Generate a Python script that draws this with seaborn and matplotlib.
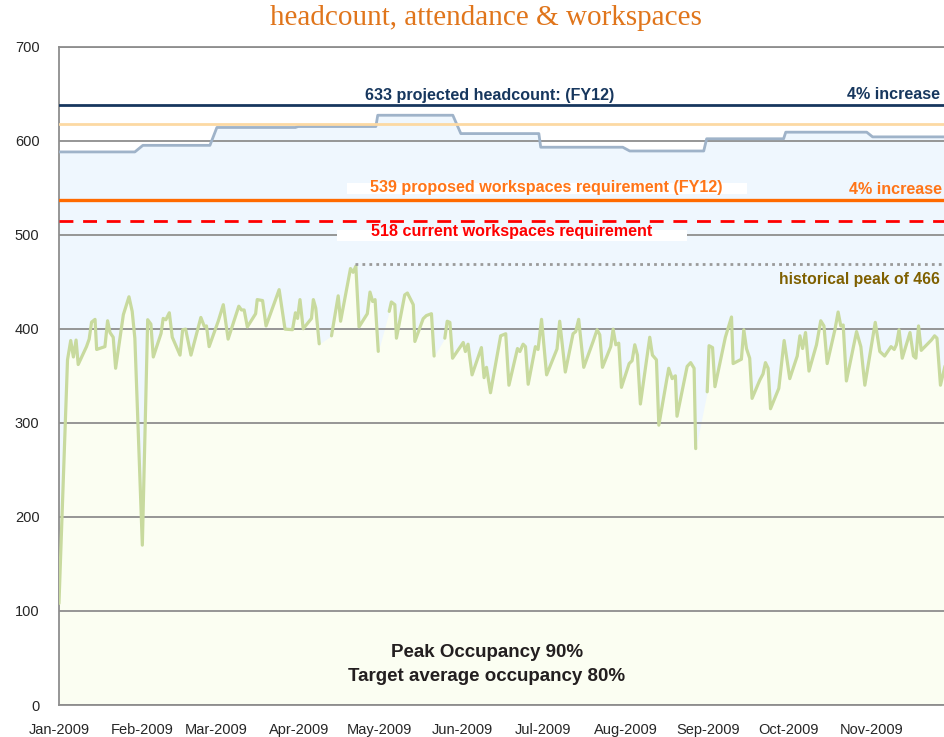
import numpy as np
import pandas as pd
import matplotlib
matplotlib.use("Agg")
import matplotlib.pyplot as plt
import matplotlib.dates as mdates
from matplotlib.patches import Rectangle
from matplotlib.transforms import blended_transform_factory
import seaborn as sns

# headcount (step line) vertices: days since 2009-01-01, value
hc_day = [0, 28.4, 31.4, 56.5, 59.1, 88.5, 89.5, 118.6, 119.3, 147.4, 150.4,
          179.6, 180.3, 211.0, 213.6, 241.3, 242.4, 271.2, 272.0, 302.3, 304.5, 331.7]
hc_val = [588, 588, 595, 595, 614, 614, 615, 615, 627, 627, 607.5,
          607.5, 593, 593, 589, 589, 602, 602, 609, 609, 604, 604]

# daily attendance (NaN = gap in the line)
att_day = [0, 3.2, 4.4, 5.4, 6.4, 7.2, 10.3, 11.3, 12.2, 13.5, 14.1, 17.2, 18.2, 19.1, 20.3,
           21.2, 24.1, 26.2, 27.4, 28.4, 31.2, 33.2, 34.4, 35.3, 38.2, 39.0, 40.0, 41.3, 42.4,
           45.3, 46.3, 47.4, 49.4, 53.1, 54.4, 55.2, 56.2, 59.6, 61.5, 63.3, 67.3, 68.3, 69.3,
           70.5, 73.6, 74.2, 76.2, 77.5, 82.4, 84.6, 87.4, 88.5, 89.3, 90.2, 91.4, 94.5, 95.2,
           96.1, 97.4, 99.7, 102.0, 104.5, 105.4, 109.1, 110.1, 111.1, 112.3, 115.4, 116.4,
           117.4, 118.3, 119.5, 121.5, 123.6, 124.4, 125.7, 126.3, 129.4, 130.4, 132.6, 133.2,
           136.3, 137.5, 139.4, 140.4, 142.4, 144.4, 145.3, 146.3, 147.3, 151.3, 152.1, 153.1,
           154.6, 158.1, 159.1, 160.0, 161.5, 165.3, 167.2, 168.4, 171.6, 172.5, 173.7, 174.6,
           175.6, 178.3, 179.3, 180.6, 182.5, 186.4, 187.4, 189.5, 192.4, 193.4, 194.5, 196.4,
           199.9, 201.4, 202.4, 203.4, 206.5, 207.4, 208.4, 209.5, 210.5, 213.4, 214.5, 215.5,
           216.5, 217.6, 221.1, 222.1, 223.6, 224.5, 228.2, 229.5, 230.7, 231.3, 235.1, 236.4,
           237.7, 238.3, 240.4, 242.6, 243.3, 244.6, 245.5, 249.4, 251.7, 252.3, 255.4, 256.3,
           257.3, 258.5, 259.4, 262.3, 263.5, 264.4, 265.4, 266.3, 269.4, 271.4, 273.5, 276.3,
           277.3, 278.3, 279.4, 280.7, 283.5, 285.1, 286.3, 287.5, 290.4, 291.6, 292.6, 293.5,
           294.7, 298.5, 300.1, 301.6, 305.5, 307.2, 309.0, 311.4, 312.6, 313.4, 314.4, 315.6,
           318.5, 319.8, 320.7, 321.7, 322.7, 326.5, 327.7, 328.6, 329.9, 331.7]
att_val = [108, 367, 387.5, 370, 388, 362, 381, 389, 407, 410, 378, 381, 408.5, 396, 391,
           358, 415, 434, 418.5, 390, 170, 409.6, 405, 370, 395, 411, 409.6, 417, 391,
           372, 399, 399.6, 372, 412, 402.5, 403, 381, 408, 425.6, 389, 424, 420, 420,
           402, 416, 431, 430, 403, 441.6, 399.6, 399, 417, 411, 431, 400, 411, 431,
           422, 384, np.nan, 392.5, 435, 408, 464, 460, 466.6, 402, 416, 439,
           429, 431, 376, np.nan, 418.5, 428.5, 425.6, 390, 436, 438, 425.6, 386.5,
           410.7, 414, 416, 371, np.nan, 390, 408, 406.8, 368.7, 385.4, 375.8, 383.6,
           351, 380, 348, 359, 332, 392.5, 394.7, 340, 379, 375.8, 383.6, 381,
           341, 381, 378, 410, 351, 378.6, 408, 354, 394.7, 397, 410, 359,
           386.5, 399, 393.6, 359, 381, 399.6, 383, 384.7, 337.7, 363, 366, 383,
           372, 320, 391, 372, 367, 297.5, 358, 347, 350, 307, 360, 364,
           358, 272.6, np.nan, 333, 382, 380, 338.4, 391, 412.5, 363, 367.6, 399,
           379, 368.7, 326, 345.5, 352, 364, 358, 315, 336.6, 387.5, 347, 371,
           392.5, 379, 396, 355, 383, 408.5, 403, 363, 399, 417.8, 403, 404,
           344.5, 397, 381, 340, 406.8, 375.8, 371, 381, 378, 383, 399, 368.7,
           396, 371, 368.7, 403, 377, 388, 392.5, 390, 340, 361.6]

projected_headcount = 638
headcount_light = 618
proposed_ws = 537
current_ws = 515
hist_peak = 469
hist_peak_day = 110.7

month_ticks = ["2009-%02d-01" % m for m in range(1, 12)]

base = pd.Timestamp("2009-01-01")
hc = pd.DataFrame({"date": base + pd.to_timedelta(hc_day, unit="D"), "val": hc_val})
att = pd.DataFrame({"date": base + pd.to_timedelta(att_day, unit="D"), "val": att_val})
att["seg"] = att["val"].isna().cumsum()
att_line = att.dropna()

sns.set_style("white")
plt.rcParams["font.family"] = ["Liberation Sans", "DejaVu Sans"]

fig, ax = plt.subplots(figsize=(9.45, 7.37), dpi=100)
fig.subplots_adjust(left=0.0624, right=1.0, bottom=0.0434, top=0.9368)

# areas
ax.fill_between(hc["date"], 0, hc["val"], color="#eff7fe", lw=0, zorder=0.2)
ax.fill_between(att_line["date"], 0, att_line["val"], color="#fbfef2", lw=0, zorder=0.3)

ax.set_axisbelow(True)
ax.yaxis.grid(True, color="#8e8e8e", lw=1.3)
ax.xaxis.grid(False)

sns.lineplot(data=hc, x="date", y="val", color="#9fb3c9", lw=2, ax=ax, zorder=3)
sns.lineplot(data=att_line, x="date", y="val", units="seg", estimator=None,
             color="#c8da9e", lw=2.3, ax=ax, zorder=3)

ax.axhline(projected_headcount, color="#17375e", lw=2, zorder=4)
ax.axhline(headcount_light, color="#fcd9a3", lw=2, zorder=4)
ax.axhline(proposed_ws, color="#ff6a00", lw=2.4, zorder=4)
ax.axhline(current_ws, color="#ff0000", lw=2, ls=(0, (5, 3.5)), zorder=4)
peak_start = base + pd.Timedelta(days=hist_peak_day)
ax.plot([peak_start, base + pd.Timedelta(days=340)], [hist_peak, hist_peak],
        color="#9a9a9a", lw=2, ls=(0, (1, 1.5)), zorder=4)

end = base + pd.Timedelta(days=331.6)
ax.set_xlim(base, end)
ax.set_ylim(0, 700)
ax.set_yticks(range(0, 701, 100))
ax.set_xticks(pd.to_datetime(month_ticks))
ax.xaxis.set_major_formatter(mdates.DateFormatter("%b-%Y"))
ax.set_xlabel("")
ax.set_ylabel("")
ax.tick_params(axis="y", length=9, width=1.2, color="#8e8e8e", pad=5, labelsize=10.5)
ax.tick_params(axis="x", length=5, width=1.2, color="#8e8e8e", pad=8, labelsize=10.5)
for side in ["left", "bottom", "top"]:
    ax.spines[side].set_color("#8e8e8e")
    ax.spines[side].set_linewidth(1.3)
ax.spines["right"].set_visible(False)

trans = blended_transform_factory(ax.transAxes, ax.transData)
bold = dict(fontweight="bold", transform=trans, zorder=6)

ax.add_patch(Rectangle((0.325, 543.5), 0.4515, 11, transform=trans,
                       facecolor="white", edgecolor="none", zorder=5))
ax.add_patch(Rectangle((0.3138, 493.6), 0.395, 11.7, transform=trans,
                       facecolor="white", edgecolor="none", zorder=5))

ax.text(0.4865, 647.5, "633 projected headcount: (FY12)", color="#17375e",
        ha="center", va="center", fontsize=11.6, **bold)
ax.text(0.9944, 649.5, "4% increase", color="#17375e",
        ha="right", va="center", fontsize=11.6, **bold)
ax.text(0.550, 550.0, "539 proposed workspaces requirement (FY12)", color="#ff7518",
        ha="center", va="center", fontsize=11.6, **bold)
ax.text(0.9966, 548.0, "4% increase", color="#ff7518",
        ha="right", va="center", fontsize=11.6, **bold)
ax.text(0.5107, 503, "518 current workspaces requirement", color="#ff0000",
        ha="center", va="center", fontsize=11.6, **bold)
ax.text(0.9944, 452, "historical peak of 466", color="#7f6000",
        ha="right", va="center", fontsize=11.3, **bold)
ax.text(0.483, 55.3, "Peak Occupancy 90%", color="#231f20",
        ha="center", va="center", fontsize=13.5, **bold)
ax.text(0.483, 29.8, "Target average occupancy 80%", color="#231f20",
        ha="center", va="center", fontsize=13.5, **bold)

fig.text(0.514, 0.9756, "headcount, attendance & workspaces", color="#e0751b",
         ha="center", va="center", fontsize=21, family=["Liberation Serif", "DejaVu Serif"])

fig.savefig("out.png", dpi=100)
